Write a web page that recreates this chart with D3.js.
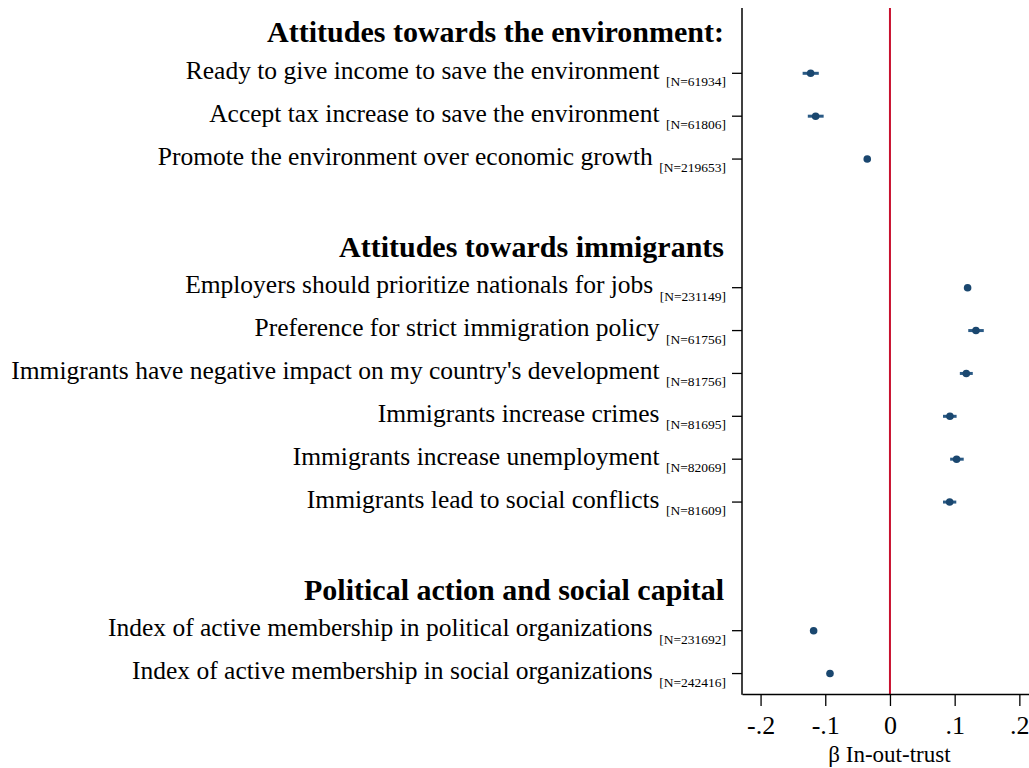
<!DOCTYPE html>
<html><head><meta charset="utf-8">
<script src="https://cdn.jsdelivr.net/npm/d3@7/dist/d3.min.js"></script>
<style>body{margin:0;background:#fff}svg{display:block}</style>
</head><body>
<script>
// ---- data ----
const rowTypes = ["header","item","item","item","blank","header","item","item","item","item","item","item","blank","header","item","item"];
const headers = ["Attitudes towards the environment:", "Attitudes towards immigrants", "Political action and social capital"];
const labels = [
  "Ready to give income to save the environment",
  "Accept tax increase to save the environment",
  "Promote the environment over economic growth",
  "Employers should prioritize nationals for jobs",
  "Preference for strict immigration policy",
  "Immigrants have negative impact on my country's development",
  "Immigrants increase crimes",
  "Immigrants increase unemployment",
  "Immigrants lead to social conflicts",
  "Index of active membership in political organizations",
  "Index of active membership in social organizations"
];
const nObs = ["61934","61806","219653","231149","61756","81756","81695","82069","81609","231692","242416"];
const beta = [-0.1226, -0.1149, -0.0351, 0.1200, 0.1329, 0.1180, 0.0927, 0.1030, 0.0923, -0.1180, -0.0927];
const ciLow = [-0.1350, -0.1270, -0.0370, 0.1180, 0.1210, 0.1080, 0.0820, 0.0930, 0.0820, -0.1200, -0.0945];
const ciHigh = [-0.1100, -0.1025, -0.0330, 0.1220, 0.1450, 0.1280, 0.1030, 0.1140, 0.1025, -0.1160, -0.0910];
const xTicks = [-0.2, -0.1, 0, 0.1, 0.2];
const xTickLabels = ["-.2", "-.1", "0", ".1", ".2"];
const xTitle = "β In-out-trust";

// ---- build ----
const W = 1029, H = 768;
const svg = d3.select("body").append("svg").attr("width", W).attr("height", H);
const FONT = "'Liberation Serif', 'DejaVu Serif', serif";
const axisX = 742, plotTop = 8, plotBottom = 694;

const x = d3.scaleLinear().domain([-0.2287, 0.2149]).range([axisX, 1029]);
const y = d3.scaleBand().domain(d3.range(rowTypes.length)).range([plotTop + 1, plotBottom + 1]);
const yc = i => y(i) + y.bandwidth() / 2;

let hi = 0, ii = 0;
const rows = rowTypes.map((t, r) => {
  if (t === "header") return {t, r, text: headers[hi++]};
  if (t === "item") { const k = ii++; return {t, r, text: labels[k], n: nObs[k], b: beta[k], lo: ciLow[k], hiV: ciHigh[k]}; }
  return {t, r};
});

// zero line
svg.append("line").attr("x1", x(0)).attr("x2", x(0)).attr("y1", plotTop).attr("y2", plotBottom)
  .attr("stroke", "#c8102e").attr("stroke-width", 2);

// y axis line and ticks
svg.append("line").attr("x1", axisX).attr("x2", axisX).attr("y1", plotTop).attr("y2", plotBottom + 0.75)
  .attr("stroke", "#000").attr("stroke-width", 1.5);
const items = rows.filter(d => d.t === "item");
svg.selectAll(".ytick").data(items).join("line")
  .attr("x1", axisX - 10).attr("x2", axisX).attr("y1", d => yc(d.r)).attr("y2", d => yc(d.r))
  .attr("stroke", "#000").attr("stroke-width", 1.3);

// labels
const lab = svg.selectAll(".lab").data(items).join("text")
  .attr("x", 726).attr("y", d => yc(d.r) + 5.5).attr("text-anchor", "end")
  .attr("font-family", FONT).attr("font-size", 25.5).attr("fill", "#000");
lab.append("tspan").text(d => d.text + " ");
lab.append("tspan").attr("font-size", 13.5).attr("dy", 7.5).text(d => "[N=" + d.n + "]");

svg.selectAll(".hdr").data(rows.filter(d => d.t === "header")).join("text")
  .attr("x", 724).attr("y", d => yc(d.r) + 12).attr("text-anchor", "end")
  .attr("font-family", FONT).attr("font-size", 30).attr("font-weight", "bold").attr("fill", "#000")
  .text(d => d.text);

// CIs and points
svg.selectAll(".ci").data(items).join("line")
  .attr("x1", d => x(d.lo)).attr("x2", d => x(d.hiV)).attr("y1", d => yc(d.r)).attr("y2", d => yc(d.r))
  .attr("stroke", "#2a5a85").attr("stroke-width", 3);
svg.selectAll(".pt").data(items).join("circle")
  .attr("cx", d => x(d.b)).attr("cy", d => yc(d.r)).attr("r", 3.8).attr("fill", "#1a476f");

// x axis
const gx = svg.append("g").attr("transform", `translate(0,${plotBottom})`)
  .call(d3.axisBottom(x).tickValues(xTicks).tickFormat((d, i) => xTickLabels[i]).tickSize(12).tickSizeOuter(0));
gx.select(".domain").attr("stroke", "#000").attr("stroke-width", 1.5);
gx.selectAll(".tick line").attr("stroke", "#000").attr("stroke-width", 1.3);
gx.selectAll(".tick text").attr("font-family", FONT).attr("font-size", 26).attr("fill", "#000").attr("dy", null).attr("y", 40);

svg.append("text").attr("x", x(0) - 0.5).attr("y", 762).attr("text-anchor", "middle")
  .attr("font-family", FONT).attr("font-size", 23).attr("fill", "#000").text(xTitle);
</script>
</body></html>
